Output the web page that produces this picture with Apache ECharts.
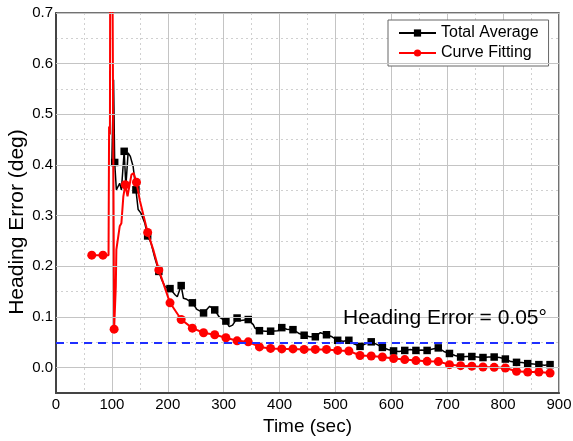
<!DOCTYPE html>
<html>
<head>
<meta charset="utf-8">
<script src="https://cdn.jsdelivr.net/npm/echarts@6/dist/echarts.min.js"></script>
<style>
  html, body { margin: 0; padding: 0; background: #fff; }
  #main { width: 573px; height: 441px; }
</style>
</head>
<body>
<div id="main"></div>
<script>
// Total Average: jagged line, squares on marked points
var avgTime  = [100, 103, 105, 108, 111, 114, 117, 122, 125, 129, 133, 138, 143, 147, 152, 159, 164, 170, 177, 184, 189, 195, 204, 213, 217, 224, 228, 234, 244, 252, 264, 275, 284, 292, 304, 310, 316, 324, 331, 344, 353, 356, 364, 375, 384, 397, 404, 413, 424, 434, 444, 454, 464, 473, 484, 494, 504, 514, 524, 533, 544, 554, 564, 574, 584, 594, 604, 614, 624, 634, 644, 654, 664, 674, 684, 694, 704, 714, 724, 734, 744, 754, 764, 774, 784, 794, 804, 814, 824, 834, 844, 854, 864, 874, 884];
var avgValue = [0.41, 0.568, 0.405, 0.351, 0.35, 0.364, 0.351, 0.427, 0.358, 0.424, 0.417, 0.397, 0.351, 0.312, 0.305, 0.285, 0.26, 0.246, 0.216, 0.19, 0.174, 0.16, 0.156, 0.144, 0.14, 0.162, 0.137, 0.135, 0.128, 0.115, 0.108, 0.121, 0.114, 0.1, 0.092, 0.081, 0.084, 0.098, 0.093, 0.095, 0.085, 0.078, 0.073, 0.072, 0.072, 0.073, 0.079, 0.076, 0.075, 0.068, 0.064, 0.061, 0.061, 0.069, 0.065, 0.061, 0.054, 0.052, 0.054, 0.047, 0.042, 0.047, 0.051, 0.046, 0.04, 0.036, 0.033, 0.032, 0.034, 0.036, 0.034, 0.035, 0.034, 0.037, 0.039, 0.032, 0.028, 0.024, 0.021, 0.022, 0.022, 0.021, 0.02, 0.021, 0.021, 0.02, 0.017, 0.012, 0.0105, 0.01, 0.008, 0.007, 0.006, 0.005, 0.006];
var avgMarked = [0, 0, 1, 0, 0, 0, 0, 1, 0, 0, 0, 0, 1, 0, 0, 0, 1, 0, 0, 1, 0, 0, 1, 0, 0, 1, 0, 0, 1, 0, 1, 0, 1, 0, 1, 0, 0, 1, 0, 1, 0, 0, 1, 0, 1, 0, 1, 0, 1, 0, 1, 0, 1, 0, 1, 0, 1, 0, 1, 0, 1, 0, 1, 0, 1, 0, 1, 0, 1, 0, 1, 0, 1, 0, 1, 0, 1, 0, 1, 0, 1, 0, 1, 0, 1, 0, 1, 0, 1, 0, 1, 0, 1, 0, 1];

// Curve Fitting: circles on marked points
var fitTime  = [64, 84, 94, 95, 96.5, 98, 104, 107, 108, 114, 117, 120.5, 124, 128, 135, 139, 144, 150, 164, 174, 184, 195, 204, 224, 244, 264, 284, 304, 324, 344, 364, 384, 404, 424, 444, 464, 484, 504, 524, 544, 564, 584, 604, 624, 644, 664, 684, 704, 724, 744, 764, 784, 804, 824, 844, 864, 884];
var fitValue = [0.222, 0.222, 0.222, 0.476, 0.46, 1.5, 0.076, 0.16, 0.233, 0.279, 0.285, 0.338, 0.361, 0.338, 0.381, 0.384, 0.366, 0.33, 0.267, 0.233, 0.193, 0.157, 0.128, 0.095, 0.078, 0.069, 0.065, 0.059, 0.053, 0.051, 0.041, 0.038, 0.037, 0.037, 0.036, 0.036, 0.036, 0.034, 0.033, 0.024, 0.023, 0.021, 0.018, 0.016, 0.014, 0.0125, 0.012, 0.006, 0.004, 0.003, 0.0013, 0.0007, -0.0007, -0.007, -0.0086, -0.0086, -0.0105];
var fitMarked = [1, 1, 0, 0, 0, 0, 1, 0, 0, 0, 0, 0, 1, 0, 0, 0, 1, 0, 1, 0, 1, 0, 1, 1, 1, 1, 1, 1, 1, 1, 1, 1, 1, 1, 1, 1, 1, 1, 1, 1, 1, 1, 1, 1, 1, 1, 1, 1, 1, 1, 1, 1, 1, 1, 1, 1, 1];

var majorY = [0, 0.1, 0.2, 0.3, 0.4, 0.5, 0.6, 0.7];
var threshold = 0.05;

var font = 'Liberation Sans, Arial, sans-serif';
var chart = echarts.init(document.getElementById('main'));

var avgData = avgTime.map(function (t, i) { return [t, avgValue[i]]; });
var fitData = fitTime.map(function (t, i) { return [t, fitValue[i]]; });

chart.setOption({
  animation: false,
  grid: {
    left: 56, right: 14, top: 13, bottom: 48,
    outerBoundsMode: 'none', containLabel: false,
    show: true, borderColor: '#444', borderWidth: 1.5
  },
  legend: {
    left: 388, top: 20,
    orient: 'vertical',
    backgroundColor: '#fff',
    borderColor: '#666', borderWidth: 1,
    padding: [5, 10, 5, 10],
    itemWidth: 37, itemHeight: 9, itemGap: 4,
    textStyle: { fontFamily: font, fontSize: 16, color: '#000' },
    data: ['Total Average', 'Curve Fitting']
  },
  xAxis: {
    type: 'value', min: 0, max: 900, interval: 100,
    name: 'Time (sec)', nameLocation: 'middle', nameGap: 17,
    nameTextStyle: { fontFamily: font, fontSize: 19, color: '#000' },
    axisLine: { onZero: false, lineStyle: { color: '#444', width: 2 } },
    axisTick: { show: false },
    axisLabel: { fontFamily: font, fontSize: 15, color: '#000', margin: 4 },
    splitLine: { lineStyle: { color: '#c4c4c4', width: 1 } },
    minorTick: { show: false, splitNumber: 2 },
    minorSplitLine: { show: true, lineStyle: { color: '#d0d0d0', type: [2, 3] } }
  },
  yAxis: {
    type: 'value', min: -0.05, max: 0.7, interval: 0.05,
    axisLine: { show: true, onZero: false, lineStyle: { color: '#444', width: 2 } },
    axisTick: { show: false },
    axisLabel: {
      fontFamily: font, fontSize: 15, color: '#000', margin: 3,
      formatter: function (v) {
        var k = Math.round(v * 100);
        return (k % 10 === 0 && k >= 0) ? (k / 100).toFixed(1) : '';
      }
    },
    splitLine: { lineStyle: { color: '#d0d0d0', type: [2, 3] } }
  },
  graphic: [
    {
      type: 'text', x: 17, y: 222, rotation: Math.PI / 2, silent: true,
      style: { text: 'Heading Error (deg)', font: '21px ' + font, fill: '#000', align: 'center', verticalAlign: 'middle' }
    },
    {
      type: 'text', left: 343, top: 308, z: 100, silent: true,
      style: { text: 'Heading Error = 0.05°', font: '21px ' + font, fill: '#000' }
    }
  ],
  series: [
    {
      // solid major grid lines at every 0.1
      type: 'line', name: 'grid', data: [], z: 0, silent: true,
      markLine: {
        silent: true, symbol: 'none', label: { show: false },
        lineStyle: { color: '#c4c4c4', width: 1, type: 'solid' },
        data: majorY.map(function (y) { return { yAxis: y }; })
      }
    },
    {
      type: 'line', name: 'Total Average', data: avgData, z: 3,
      symbol: 'rect', showAllSymbol: true,
      symbolSize: function (v, p) { return avgMarked[p.dataIndex] ? 7.5 : 0; },
      lineStyle: { color: '#000', width: 1.5 },
      itemStyle: { color: '#000' }
    },
    {
      type: 'line', name: 'Curve Fitting', data: fitData, z: 4,
      symbol: 'circle', showAllSymbol: true,
      symbolSize: function (v, p) { return fitMarked[p.dataIndex] ? 9 : 0; },
      lineStyle: { color: '#ff0000', width: 2 },
      itemStyle: { color: '#ff0000' },
      markLine: {
        silent: true, symbol: 'none', label: { show: false },
        lineStyle: { color: '#1f2fff', width: 2, type: [8, 6] },
        data: [{ yAxis: threshold }]
      }
    }
  ]
});
</script>
</body>
</html>
